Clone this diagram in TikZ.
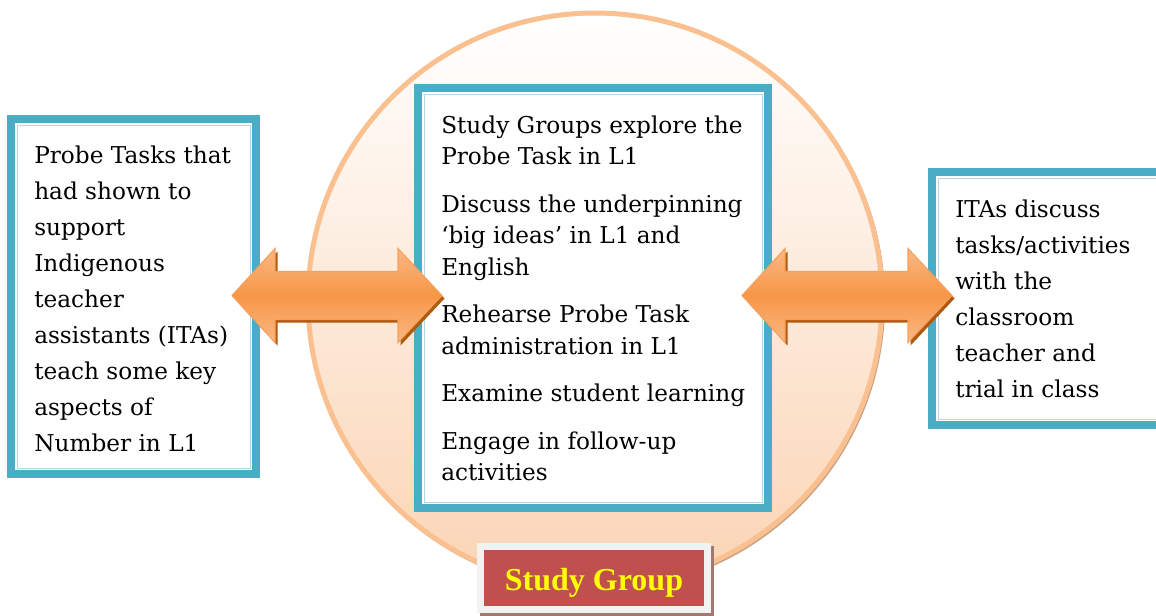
\documentclass[tikz,border=0pt]{standalone}
\usepackage{fontspec}
\setmainfont{DejaVu Serif}
\newfontfamily\labelfont{Liberation Serif}
\usetikzlibrary{calc}
\definecolor{frameblue}{HTML}{4BACC6}
\definecolor{peach}{HTML}{FBD4B4}
\definecolor{circline}{HTML}{FAC08F}
\definecolor{circshadow}{HTML}{C9A486}
\definecolor{arrowmid}{HTML}{F79646}
\definecolor{arrowlight}{HTML}{FAB885}
\definecolor{arrowline}{HTML}{F8A05A}
\definecolor{arrowshadow}{HTML}{B05A10}
\definecolor{labelred}{HTML}{C0504D}
\definecolor{labelframe}{HTML}{F2F2F2}
\definecolor{labelshadow}{HTML}{A07A72}
\definecolor{labeltext}{HTML}{FFFF00}
\newcommand{\dblarrowpath}[2]{(#1) -- ($(#1)+(43,-47)$) -- ($(#1)+(43,-24)$) -- ($(#2)+(-44,-24)$) -- ($(#2)+(-44,-47)$) -- (#2) -- ($(#2)+(-44,47)$) -- ($(#2)+(-44,24)$) -- ($(#1)+(43,24)$) -- ($(#1)+(43,47)$) -- cycle}
\begin{document}
\begin{tikzpicture}[x=0.75pt,y=-0.75pt,
  frame/.style={draw=frameblue, line width=6pt, fill=white, rectangle, inner sep=0pt},
  innerline/.style={draw=frameblue, line width=1.5pt},
  faintline/.style={draw=frameblue!45, line width=0.6pt},
  boxtext/.style={anchor=north west, inner sep=0pt, align=left, text=black},
  blockarrow/.style={draw=arrowline, line width=0.8pt, top color=arrowlight, bottom color=arrowlight, middle color=arrowmid},
  arrowshade/.style={fill=arrowshadow},
]
\useasboundingbox (0,0) rectangle (1156,615);

% circle
\draw[circshadow, line width=2.5pt] (596.5,302) circle[radius=215.25pt];
\node[circle, inner sep=0pt, minimum size=430.5pt, draw=circline, line width=3.75pt,
      top color=white, bottom color=peach] (circ) at (595,300) {};

% boxes
\node[frame, minimum width=183.75pt, minimum height=266.25pt] (left) at (133.5,296.5) {};
\draw[innerline] ([shift={(7,7)}]left.north west) rectangle ([shift={(-7,-7)}]left.south east);
\draw[faintline] ([shift={(10,10)}]left.north west) rectangle ([shift={(-10,-10)}]left.south east);

\node[frame, minimum width=262.5pt, minimum height=315pt] (mid) at (593,298) {};
\draw[innerline] ([shift={(7,7)}]mid.north west) rectangle ([shift={(-7,-7)}]mid.south east);
\draw[faintline] ([shift={(10,10)}]mid.north west) rectangle ([shift={(-10,-10)}]mid.south east);

\node[frame, minimum width=178.5pt, minimum height=189.75pt] (right) at (1051,298.5) {};
\draw[innerline] ([shift={(7,7)}]right.north west) rectangle ([shift={(-7,-7)}]right.south east);
\draw[faintline] ([shift={(10,10)}]right.north west) rectangle ([shift={(-10,-10)}]right.south east);

% texts
\node[boxtext, font=\fontsize{17.4}{27}\selectfont] (lefttext) at (34,145.4)
  {Probe Tasks that\\had shown to\\support\\Indigenous\\teacher\\assistants (ITAs)\\teach some key\\aspects of\\Number in L1};
\node[boxtext, font=\fontsize{17.4}{23.6}\selectfont] (midtext) at (441,115.4)
  {Study Groups explore the\\Probe Task in L1\\[12pt]Discuss the underpinning\\‘big ideas’ in L1 and\\English\\[12pt]Rehearse Probe Task\\administration in L1\\[12pt]Examine student learning\\[12pt]Engage in follow-up\\activities};
\node[boxtext, font=\fontsize{17.4}{27}\selectfont] (righttext) at (955,199.1)
  {ITAs discuss\\tasks/activities\\with the\\classroom\\teacher and\\trial in class};

% arrows
\coordinate (la) at (232,295.5);
\coordinate (lb) at (442,295.5);
\coordinate (ra) at (742,295.5);
\coordinate (rb) at (952,295.5);
\fill[arrowshade, transform canvas={shift={(2.5,3)}}] \dblarrowpath{la}{lb};
\path[blockarrow] \dblarrowpath{la}{lb};
\fill[arrowshade, transform canvas={shift={(2.5,3)}}] \dblarrowpath{ra}{rb};
\path[blockarrow] \dblarrowpath{ra}{rb};

% label
\fill[labelshadow] (480,546) rectangle (714,616);
\node[draw=labelframe, line width=5.25pt, fill=labelred, inner sep=0pt,
      minimum width=170.25pt, minimum height=47.25pt] (label) at (594,578) {};
\node[font=\labelfont\bfseries\fontsize{24}{24}\selectfont, text=labeltext, inner sep=0pt]
      (labeltext) at ([yshift=-3.5pt]label.center) {Study Group};
\end{tikzpicture}
\end{document}
